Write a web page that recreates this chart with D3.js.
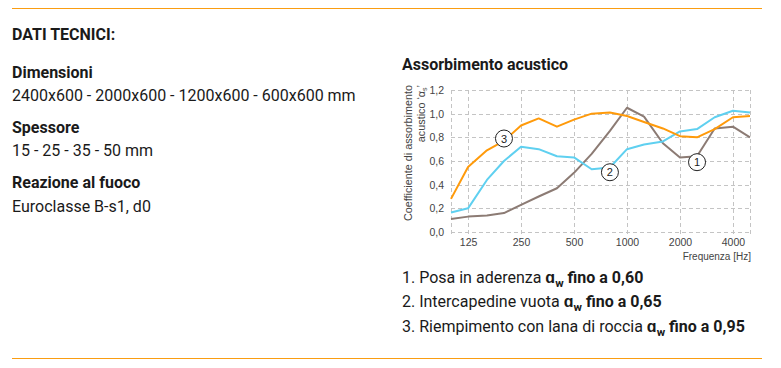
<!DOCTYPE html>
<html>
<head>
<meta charset="utf-8">
<script src="https://cdn.jsdelivr.net/npm/d3@7"></script>
<style>
  body { margin: 0; background: #fff; }
  svg { display: block; }
</style>
</head>
<body>
<svg id="chart" width="781" height="368"></svg>
<script>
// bande di terzo d'ottava
const frequenze = [100, 125, 160, 200, 250, 315, 400, 500, 630, 800, 1000, 1250, 1600, 2000, 2500, 3150, 4000, 5000];
const serie1 = [0.11, 0.13, 0.14, 0.16, 0.23, 0.30, 0.37, 0.50, 0.66, 0.855, 1.05, 0.975, 0.75, 0.63, 0.64, 0.875, 0.89, 0.80];
const serie2 = [0.165, 0.20, 0.44, 0.60, 0.72, 0.70, 0.64, 0.63, 0.53, 0.545, 0.70, 0.74, 0.765, 0.85, 0.87, 0.97, 1.025, 1.01];
const serie3 = [0.28, 0.55, 0.69, 0.77, 0.90, 0.96, 0.89, 0.95, 1.00, 1.01, 0.98, 0.93, 0.875, 0.81, 0.80, 0.87, 0.97, 0.98];
const tickFreq = [125, 250, 500, 1000, 2000, 4000];
const tickY = [0, 0.2, 0.4, 0.6, 0.8, 1.0, 1.2];
const legenda = [
  { testo: "1. Posa in aderenza ", valore: "fino a 0,60" },
  { testo: "2. Intercapedine vuota ", valore: "fino a 0,65" },
  { testo: "3. Riempimento con lana di roccia ", valore: "fino a 0,95" }
];
// etichette numerate sulle curve
const etichette = [
  { n: "3", f: 200, v: 0.79 },
  { n: "2", f: 800, v: 0.505 },
  { n: "1", f: 2500, v: 0.59 }
];

const svg = d3.select("#chart");

// linee orizzontali arancioni
svg.append("line").attr("x1", 12).attr("x2", 762).attr("y1", 8.5).attr("y2", 8.5)
  .attr("stroke", "#fa9d12").attr("stroke-width", 1.2);
svg.append("line").attr("x1", 12).attr("x2", 762).attr("y1", 358.5).attr("y2", 358.5)
  .attr("stroke", "#fa9d12").attr("stroke-width", 1.2);

// testo a sinistra
const sx = svg.append("g").attr("font-family", "Roboto, sans-serif").attr("fill", "#1a1a1a");
const righe = [
  { t: "DATI TECNICI:", y: 40, b: true },
  { t: "Dimensioni", y: 77.7, b: true },
  { t: "2400x600 - 2000x600 - 1200x600 - 600x600 mm", y: 100.7, b: false },
  { t: "Spessore", y: 133, b: true },
  { t: "15 - 25 - 35 - 50 mm", y: 155.7, b: false },
  { t: "Reazione al fuoco", y: 188.3, b: true },
  { t: "Euroclasse B-s1, d0", y: 211.7, b: false }
];
sx.selectAll("text").data(righe).join("text")
  .attr("x", 12).attr("y", d => d.y)
  .attr("font-size", 16)
  .attr("font-weight", d => d.b ? 700 : 400)
  .text(d => d.t);

// titolo grafico
svg.append("text").attr("x", 402).attr("y", 69.5)
  .attr("font-family", "Roboto, sans-serif").attr("font-size", 16).attr("font-weight", 700)
  .attr("fill", "#1a1a1a").text("Assorbimento acustico");

const pLeft = 451, pRight = 750, pTop = 90, pBottom = 232;
const x = d3.scaleLog().domain([100, 5000]).range([pLeft, pRight]);
const y = d3.scaleLinear().domain([0, 1.2]).range([pBottom, pTop]);

const grid = svg.append("g").attr("stroke", "#c4c4c4").attr("stroke-dasharray", "4,3").attr("stroke-width", 1);
grid.selectAll(".h").data(tickY).join("line").attr("class", "h")
  .attr("x1", pLeft).attr("x2", pRight)
  .attr("y1", d => Math.round(y(d)) + 0.5).attr("y2", d => Math.round(y(d)) + 0.5);
grid.selectAll(".v").data([100].concat(tickFreq, [5000])).join("line").attr("class", "v")
  .attr("x1", d => Math.round(x(d)) + 0.5).attr("x2", d => Math.round(x(d)) + 0.5)
  .attr("y1", pTop).attr("y2", pBottom + 5);

// assi (solo etichette)
const axisFont = "'Liberation Sans', Arial, sans-serif";
const yAxis = svg.append("g").attr("transform", `translate(${pLeft},0)`)
  .call(d3.axisLeft(y).tickValues(tickY).tickSize(0).tickPadding(7)
    .tickFormat(d => d3.format(".1f")(d).replace(".", ",")));
yAxis.select(".domain").remove();
yAxis.selectAll("text").attr("font-family", axisFont).attr("font-size", 10.5).attr("fill", "#444");

const xAxis = svg.append("g").attr("transform", `translate(0,${pBottom})`)
  .call(d3.axisBottom(x).tickValues(tickFreq).tickSize(0).tickPadding(7).tickFormat(d3.format("d")));
xAxis.select(".domain").remove();
xAxis.selectAll("text").attr("font-family", axisFont).attr("font-size", 10.5).attr("fill", "#444");

svg.append("text").attr("x", 751).attr("y", 260).attr("text-anchor", "end")
  .attr("font-family", axisFont).attr("font-size", 10).attr("fill", "#444")
  .text("Frequenza [Hz]");

// etichetta asse y su due righe
const yl = svg.append("text").attr("transform", "translate(412,85) rotate(-90)")
  .attr("text-anchor", "end").attr("font-family", axisFont).attr("font-size", 10.8).attr("fill", "#444");
yl.append("tspan").attr("x", 0).attr("dy", 0).text("Coefficiente di assorbimento");
const t2 = yl.append("tspan").attr("x", 0).attr("dy", 12.5);
t2.append("tspan").text("acustico \u2018\u03b1");
t2.append("tspan").attr("font-size", 7).attr("dy", 2).text("s");
t2.append("tspan").attr("dy", -2).text("\u2019");

// curve
const line = d3.line().x((d, i) => x(frequenze[i])).y(d => y(d));
const curve = [
  { dati: serie1, colore: "#8c7b74" },
  { dati: serie2, colore: "#5fd0f0" },
  { dati: serie3, colore: "#ff9a0a" }
];
svg.append("g").selectAll("path").data(curve).join("path")
  .attr("d", d => line(d.dati))
  .attr("fill", "none").attr("stroke", d => d.colore).attr("stroke-width", 2)
  .attr("stroke-linejoin", "round");

// cerchi numerati
const et = svg.append("g").selectAll("g").data(etichette).join("g")
  .attr("transform", d => `translate(${x(d.f)},${y(d.v)})`);
et.append("circle").attr("r", 8.5).attr("fill", "#fff").attr("stroke", "#222").attr("stroke-width", 1);
et.append("text").attr("text-anchor", "middle").attr("dy", 4)
  .attr("font-family", axisFont).attr("font-size", 11).attr("fill", "#222").text(d => d.n);

// legenda
const lg = svg.append("g").attr("font-family", "Roboto, sans-serif").attr("font-size", 16).attr("fill", "#1a1a1a");
lg.selectAll("text").data(legenda).join("text")
  .attr("x", 402).attr("y", (d, i) => 282.7 + i * 24.5)
  .each(function(d) {
    const t = d3.select(this);
    t.append("tspan").text(d.testo);
    t.append("tspan").attr("font-weight", 700).text("\u0251");
    t.append("tspan").attr("font-weight", 700).attr("font-size", 11.5).attr("dy", 4).text("w");
    t.append("tspan").attr("font-weight", 700).attr("dy", -4).text(" " + d.valore);
  });
</script>
</body>
</html>
